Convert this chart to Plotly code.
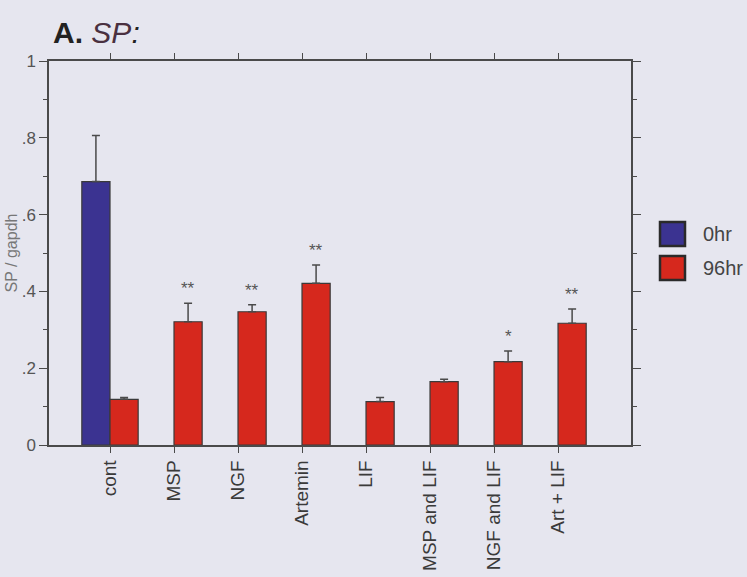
import plotly.graph_objects as go

# Substance P expression normalised to GAPDH
categories = ["cont", "MSP", "NGF", "Artemin", "LIF", "MSP and LIF", "NGF and LIF", "Art + LIF"]
hr0_mean = [0.686, None, None, None, None, None, None, None]
hr0_err = [0.12, 0, 0, 0, 0, 0, 0, 0]
hr96_mean = [0.119, 0.321, 0.347, 0.421, 0.113, 0.165, 0.217, 0.317]
hr96_err = [0.005, 0.048, 0.018, 0.048, 0.011, 0.006, 0.028, 0.037]
significance = ["", "**", "**", "**", "", "", "*", "**"]
y_ticks = [0, 0.2, 0.4, 0.6, 0.8, 1.0]
y_tick_text = ["0", ".2", ".4", ".6", ".8", "1"]

BG = "#e6e6ef"
BLUE = "#3b3391"
RED = "#d6281d"
EDGE = "#3a3a3a"
AXIS = "#4a4a4a"
FONT = "Liberation Sans, Arial, sans-serif"

x = list(range(len(categories)))
bar_w = 0.44

fig = go.Figure()
fig.add_trace(go.Bar(
    x=x, y=hr0_mean, width=bar_w, offset=-bar_w,
    marker=dict(color=BLUE, line=dict(color=EDGE, width=1.2)),
    error_y=dict(type="data", array=hr0_err, arrayminus=[0] * len(x), symmetric=False,
                 color=AXIS, thickness=1.5, width=4),
    name="0hr", showlegend=False,
))
fig.add_trace(go.Bar(
    x=x, y=hr96_mean, width=bar_w, offset=0,
    marker=dict(color=RED, line=dict(color=EDGE, width=1.2)),
    error_y=dict(type="data", array=hr96_err, arrayminus=[0] * len(x), symmetric=False,
                 color=AXIS, thickness=1.5, width=4),
    name="96hr", showlegend=False,
))

# significance stars above the 96hr bars
for i, (m, e, s) in enumerate(zip(hr96_mean, hr96_err, significance)):
    if s:
        fig.add_annotation(x=i + bar_w / 2, y=m + e, text=s, showarrow=False,
                           xref="x", yref="y", yanchor="bottom", yshift=3,
                           font=dict(family=FONT, size=17, color="#555555"))

# panel title
fig.add_annotation(xref="paper", yref="paper", x=0, y=1, xanchor="left", yanchor="bottom",
                   xshift=2, yshift=10, showarrow=False,
                   text="<b>A.</b> <i><span style='color:#4a3040'>SP</span>:</i>",
                   font=dict(family=FONT, size=30, color="#222222"))

# legend drawn as boxes with labels
PX_L, PX_R, PX_T, PX_B = 49, 631, 61, 445


def px_x(p):
    return (p - PX_L) / (PX_R - PX_L)


def px_y(p):
    return (PX_B - p) / (PX_B - PX_T)


for label, color, top in [("0hr", BLUE, 222), ("96hr", RED, 256)]:
    fig.add_shape(type="rect", xref="paper", yref="paper",
                  x0=px_x(660), x1=px_x(685), y0=px_y(top + 24), y1=px_y(top),
                  fillcolor=color, line=dict(color="#2a2a2a", width=2.5))
    fig.add_annotation(xref="paper", yref="paper", x=px_x(701), y=px_y(top + 12),
                       xanchor="left", yanchor="middle", showarrow=False, text=label,
                       font=dict(family=FONT, size=20, color="#444444"))

fig.update_layout(
    width=747, height=577,
    margin=dict(l=PX_L, r=747 - PX_R, t=PX_T, b=577 - PX_B),
    paper_bgcolor=BG, plot_bgcolor=BG,
    barmode="overlay",
    font=dict(family=FONT, color="#444444"),
    xaxis=dict(
        range=[-0.953, 8.14], tickvals=x, ticktext=categories, tickangle=-90, automargin=False,
        showgrid=False, zeroline=False, showline=True, linecolor=AXIS, linewidth=1.5,
        mirror="ticks", ticks="outside", ticklen=6, tickcolor=AXIS, tickwidth=1.2,
        tickfont=dict(family=FONT, size=19, color="#3a3a3a"),
    ),
    yaxis=dict(
        range=[0, 1], tickvals=y_ticks, ticktext=y_tick_text, automargin=False,
        showgrid=False, zeroline=False, showline=True, linecolor=AXIS, linewidth=1.5,
        mirror="ticks", ticks="outside", ticklen=8, tickcolor=AXIS, tickwidth=1.2,
        minor=dict(dtick=0.1, ticks="outside", ticklen=4, tickcolor=AXIS, tickwidth=1),
        tickfont=dict(family=FONT, size=17, color="#555555"),
        title=dict(text="SP / gapdh", font=dict(family=FONT, size=16, color="#777777"), standoff=0),
    ),
)

fig.write_html("out.html")
